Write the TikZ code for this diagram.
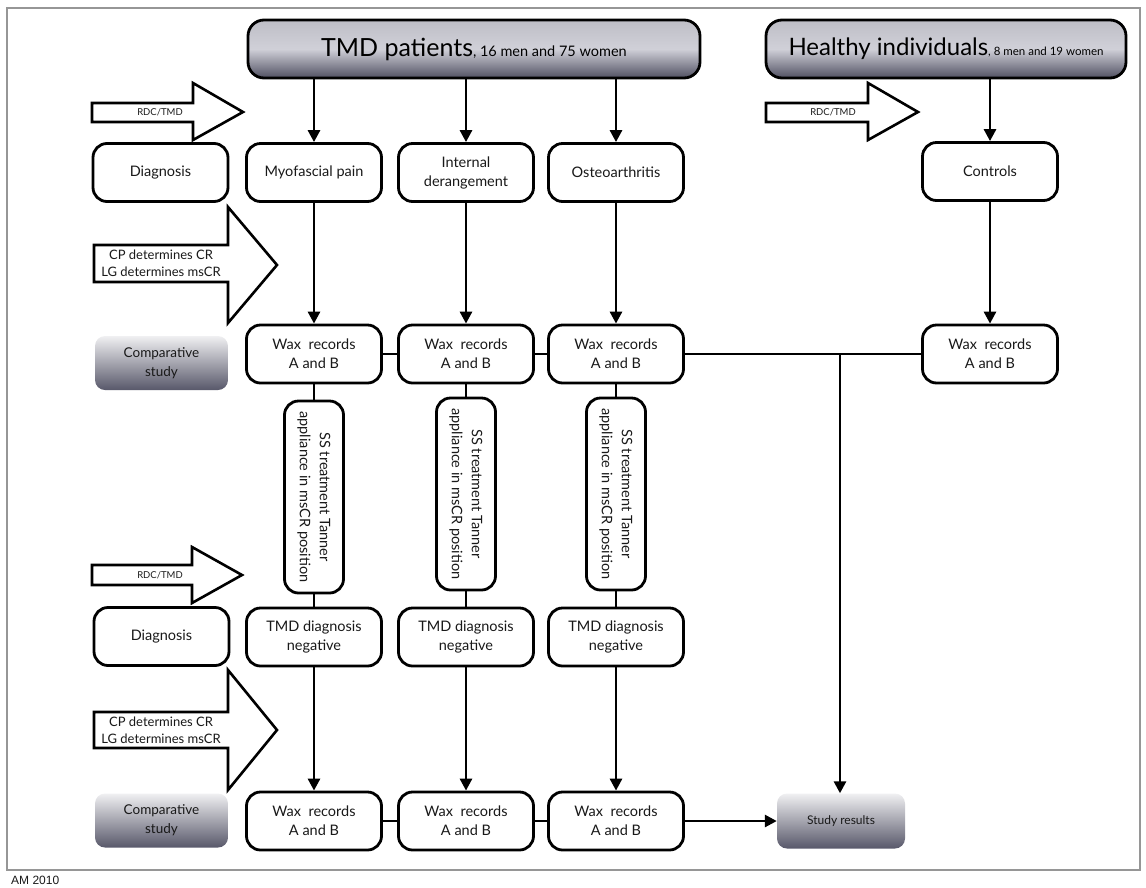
\documentclass[tikz,border=0pt]{standalone}
\usepackage{fontspec}
\setmainfont{Lato}
\newfontfamily\arialf{Liberation Sans}
\usetikzlibrary{arrows.meta}
\definecolor{hdtop}{RGB}{190,190,198}
\definecolor{hdmid}{RGB}{208,208,216}
\definecolor{hdbot}{RGB}{80,80,98}
\definecolor{cptop}{RGB}{240,240,242}
\definecolor{cpbot}{RGB}{88,88,106}
\definecolor{framec}{RGB}{150,150,150}
\definecolor{txt}{RGB}{25,25,25}
\tikzset{
  box/.style={draw=black, line width=2.8pt, rounded corners=14pt, fill=white,
    minimum width=135pt, minimum height=58pt, inner sep=2pt, align=center,
    text=txt, font=\fontsize{14.5}{19}\selectfont},
  ssbox/.style={box, minimum width=192pt, minimum height=59pt, rotate=-90,
    font=\fontsize{14.5}{20}\selectfont},
  header/.style={draw=black, line width=2.8pt, rounded corners=16pt,
    minimum height=58pt, inner sep=3pt, top color=hdtop, bottom color=hdbot,
    middle color=hdmid, text=black},
  comp/.style={rounded corners=10pt, top color=cptop, bottom color=cpbot,
    minimum width=133pt, minimum height=54pt, align=center, text=txt,
    font=\fontsize{13.5}{19}\selectfont},
  blk/.style={draw=black, line width=2.6pt, fill=white, line join=miter},
  rdc/.style={font=\fontsize{9.5}{10}\selectfont, text=txt, inner sep=1pt},
  cplab/.style={font=\fontsize{13}{17}\selectfont, align=center, text=txt, inner sep=1pt},
  arr/.style={line width=2.8pt, -{Triangle[length=12pt,width=12pt]}},
  ln/.style={line width=2.8pt}
}
\begin{document}
\begin{tikzpicture}[x=1pt,y=-1pt]
\useasboundingbox (0,0) rectangle (1146,887);
\draw[framec, line width=1.4pt] (7,8) rectangle (1140,870);

% headers
\node[header, minimum width=452pt] (tmd) at (474,49)
  {\fontsize{25}{28}\selectfont TMD patients\fontsize{14.5}{15}\selectfont, 16 men and 75 women};
\node[header, minimum width=360pt] (hea) at (946,49)
  {\fontsize{24}{28}\selectfont Healthy individuals\fontsize{11.5}{13}\selectfont, 8 men and 19 women};

% block arrows
\draw[blk] (92,103) -- (193,103) -- (193,83) -- (243,112) -- (193,140) -- (193,122) -- (92,122) -- cycle;
\node[rdc] (r1) at (160,112.5) {RDC/TMD};
\draw[blk] (766,103) -- (868,103) -- (868,83) -- (918,112) -- (868,140) -- (868,122) -- (766,122) -- cycle;
\node[rdc] (r2) at (833,112.5) {RDC/TMD};
\draw[blk] (92,565) -- (192,565) -- (192,547) -- (242,575) -- (192,603) -- (192,585) -- (92,585) -- cycle;
\node[rdc] (r3) at (160,575) {RDC/TMD};
\draw[blk] (94,245) -- (228,245) -- (228,207) -- (277,265) -- (228,323) -- (228,282) -- (94,282) -- cycle;
\node[cplab] (cp1) at (161,263.5) {CP determines CR\\LG determines msCR};
\draw[blk] (94,712) -- (228,712) -- (228,670) -- (277,730) -- (228,790) -- (228,748) -- (94,748) -- cycle;
\node[cplab] (cp2) at (161,730) {CP determines CR\\LG determines msCR};

% row 1
\node[box] (dg1) at (160.5,172.5) {Diagnosis};
\node[box] (myo) at (314,172.5) {Myofascial pain};
\node[box] (ide) at (466,172.5) {Internal\\derangement};
\node[box] (ost) at (616,172.5) {Osteoarthritis};
\node[box] (con) at (990,171.5) {Controls};

% comparative study
\node[comp] (c1) at (161.5,363) {Comparative\\study};
\node[comp] (c2) at (161.5,820.5) {Comparative\\study};

% wax row
\node[box] (w1) at (314,354) {Wax\ \ records\\A and B};
\node[box] (w2) at (466,354) {Wax\ \ records\\A and B};
\node[box] (w3) at (616,354) {Wax\ \ records\\A and B};
\node[box] (w4) at (990,354) {Wax\ \ records\\A and B};

% SS treatment
\node[ssbox] (s1) at (314,497) {SS treatment Tanner\\appliance in msCR position};
\node[ssbox] (s2) at (466,494) {SS treatment Tanner\\appliance in msCR position};
\node[ssbox] (s3) at (616,494) {SS treatment Tanner\\appliance in msCR position};

% diagnosis row 2
\node[box] (dg2) at (161.5,636.5) {Diagnosis};
\node[box] (n1) at (314,637) {TMD diagnosis\\negative};
\node[box] (n2) at (466,637) {TMD diagnosis\\negative};
\node[box] (n3) at (616,637) {TMD diagnosis\\negative};

% bottom wax
\node[box] (b1) at (314,821) {Wax\ \ records\\A and B};
\node[box] (b2) at (466,821) {Wax\ \ records\\A and B};
\node[box] (b3) at (616,821) {Wax\ \ records\\A and B};
\node[comp, minimum width=128pt, minimum height=55pt, font=\fontsize{12}{14}\selectfont] (st) at (841,821) {Study results};

% connectors
\draw[arr] (myo |- tmd.south) -- (myo.north);
\draw[arr] (ide |- tmd.south) -- (ide.north);
\draw[arr] (ost |- tmd.south) -- (ost.north);
\draw[arr] (con |- hea.south) -- (con.north);
\draw[arr] (myo) -- (w1);
\draw[arr] (ide) -- (w2);
\draw[arr] (ost) -- (w3);
\draw[arr] (con) -- (w4);
\draw[ln] (w1) -- (w2);
\draw[ln] (w2) -- (w3);
\draw[ln] (w3) -- (w4);
\coordinate (j) at (840,354);
\draw[arr] (j) -- (j |- st.north);
\draw[ln] (w1) -- (s1);
\draw[ln] (w2) -- (s2);
\draw[ln] (w3) -- (s3);
\draw[ln] (s1) -- (n1);
\draw[ln] (s2) -- (n2);
\draw[ln] (s3) -- (n3);
\draw[arr] (n1) -- (b1);
\draw[arr] (n2) -- (b2);
\draw[arr] (n3) -- (b3);
\draw[ln] (b1) -- (b2);
\draw[ln] (b2) -- (b3);
\draw[arr] (b3) -- (st);

\node[anchor=west, font=\arialf\fontsize{12}{14}\selectfont, text=txt, inner sep=0pt] (am) at (11,880) {AM 2010};
\end{tikzpicture}
\end{document}
